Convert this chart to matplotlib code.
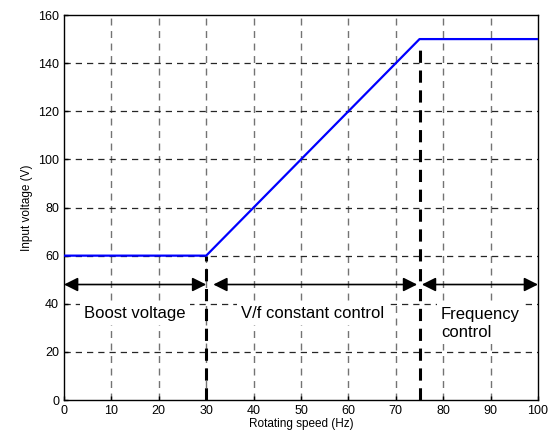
import matplotlib
matplotlib.use("Agg")
import matplotlib.pyplot as plt

plt.rcParams['font.family'] = ['Liberation Sans', 'DejaVu Sans']

# characteristic curve
speed = [0, 30, 75, 100]
voltage = [60, 60, 150, 150]

# region boundaries
bounds_x = [30, 75]
bounds_top = [60, 146]

# region arrows (start, end) at arrow height
arrow_y = 48
arrows = [(0, 30), (31.5, 74.5), (75.5, 100)]

labels = ["Boost voltage", "V/f constant control", "Frequency\ncontrol"]
label_pos = [(15, 36), (52.5, 36), (79.5, 31.8)]
label_ha = ['center', 'center', 'left']

fig = plt.figure(figsize=(5.58, 4.42), dpi=100)
ax = fig.add_axes([0.1147, 0.095, 0.8495, 0.871])

for xv in range(10, 100, 10):
    ax.axvline(xv, color='0.45', ls=(0, (5, 4)), lw=1.0, zorder=0)
for yv in range(20, 160, 20):
    ax.axhline(yv, color='0.15', ls=(0, (5, 4)), lw=0.9, zorder=0)

for (x, y), s, ha in zip(label_pos, labels, label_ha):
    ax.text(x, y, s, ha=ha, va='center', fontsize=12, linespacing=1.2,
            bbox=dict(facecolor='white', edgecolor='none', pad=3), zorder=1)

for x0, x1 in arrows:
    ax.annotate('', xy=(x1, arrow_y), xytext=(x0, arrow_y),
                arrowprops=dict(arrowstyle='<|-|>,head_length=0.6,head_width=0.3',
                                color='black', lw=1.2,
                                mutation_scale=14, shrinkA=0, shrinkB=0),
                zorder=3)

for xb, top in zip(bounds_x, bounds_top):
    ax.plot([xb, xb], [0, top], color='black', lw=2.2, ls=(0, (4, 2.5)), zorder=2)

ax.plot(speed, voltage, color='#0000ff', lw=1.6, zorder=4)

ax.set_xlim(0, 100)
ax.set_ylim(0, 160)
ax.set_xticks(range(0, 101, 10))
ax.set_yticks(range(0, 161, 20))
ax.tick_params(labelsize=9, direction='in', length=3, width=1)
for sp in ax.spines.values():
    sp.set_linewidth(1.0)
ax.set_xlabel('Rotating speed (Hz)', fontsize=8.5, labelpad=1)
ax.set_ylabel('Input voltage (V)', fontsize=8.5, labelpad=4)

fig.savefig('out.png', dpi=100)
